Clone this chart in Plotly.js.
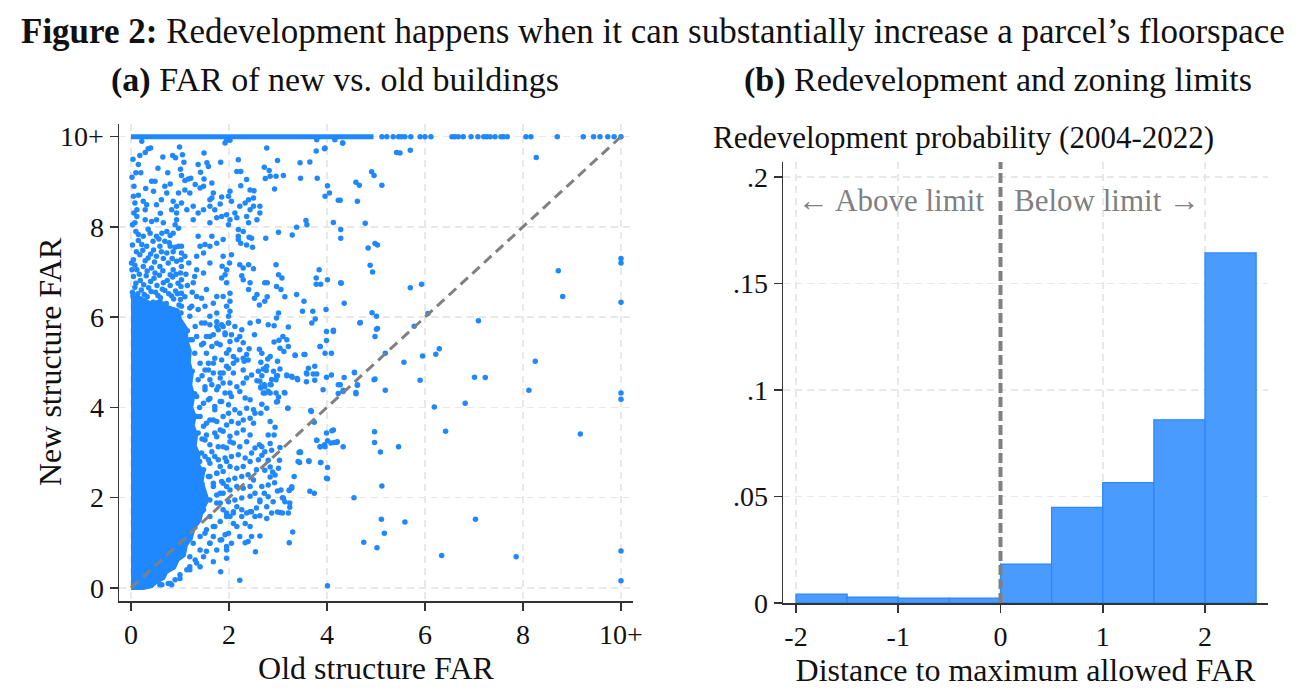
<!DOCTYPE html>
<html>
<head>
<meta charset="utf-8">
<script src="https://cdn.plot.ly/plotly-3.0.1.min.js"></script>
<style>html,body{margin:0;padding:0;background:#fff;}#chart{width:1306px;height:700px;}</style>
</head>
<body>
<div id="chart"></div>
<script>
// ---------------- Panel (a) data: FAR of new vs. old buildings ----------------
// Dense core of the cloud (outline of the region where points fully overlap), [oldFAR, newFAR]
const denseCore = [
  [0,0],[0.25,0],[0.42,0.04],[0.5,0.12],[0.66,0.22],[0.72,0.35],[0.88,0.45],[0.95,0.62],[1.08,0.72],
  [1.12,0.95],[1.22,1.1],[1.28,1.32],[1.4,1.5],[1.45,1.72],[1.56,1.95],[1.5,2.15],[1.44,2.35],[1.47,2.55],
  [1.36,2.75],[1.38,2.95],[1.3,3.15],[1.33,3.4],[1.26,3.6],[1.3,3.8],[1.23,4.0],[1.27,4.25],[1.21,4.5],
  [1.24,4.75],[1.18,5.0],[1.2,5.25],[1.13,5.5],[1.12,5.75],[1.0,5.95],[0.95,6.15],[0.75,6.22],[0.6,6.35],
  [0.4,6.3],[0.2,6.42],[0,6.45]
];
// Dense run of points on the top-coded "10+" row (old FAR from..to)
const denseTopRow = [0, 4.95];
// Individual points on the top-coded row (new FAR = 10+)
const topRowOldFAR = [5.12,5.22,5.35,5.46,5.52,5.59,5.71,5.90,6.0,6.12,6.55,6.61,6.68,6.78,6.94,
  7.08,7.20,7.26,7.33,7.43,7.55,7.60,7.68,8.06,8.16,8.70,9.23,9.44,9.57,9.73,9.86,10];
// Individual scattered points [old structure FAR, new structure FAR]
const scatterPoints = [
  [4.32,9.86],[5.42,9.65],[5.49,9.64],[5.70,9.70],[4.91,9.22],[4.96,9.14],[4.59,8.99],[4.66,8.92],[5.12,8.92],[4.27,8.59],
  [4.62,8.57],[4.78,8.08],[4.28,7.94],[4.28,7.75],[4.84,7.53],[4.98,7.63],[5.03,7.60],[4.88,7.15],[4.93,7.00],[4.29,6.75],
  [5.70,6.65],[5.93,6.73],[4.35,6.31],[4.92,6.10],[5.01,6.02],[4.68,5.88],[5.03,5.75],[4.98,5.57],[6.06,6.08],[5.78,5.80],
  [7.09,5.92],[5.19,5.20],[5.57,5.00],[5.95,5.14],[6.22,5.18],[6.29,5.30],[8.27,9.54],[8.72,7.03],[8.81,6.46],[10,7.30],
  [10,7.20],[10,6.33],[8.25,5.02],
  [4.56,4.77],[4.27,4.50],[4.33,4.38],[4.62,4.49],[4.59,4.30],[4.98,4.63],[5.19,4.38],[5.90,4.60],[7.01,4.67],[7.23,4.66],
  [6.82,4.09],[6.19,4.01],[8.12,4.38],[10,4.32],[10,4.18],[6.42,3.47],[4.97,3.46],[4.97,3.22],[4.33,3.13],[5.09,3.01],
  [5.46,3.13],[9.17,3.41],[5.12,2.26],[4.55,2.00],[5.11,1.52],[5.59,1.46],[5.17,1.21],[7.03,1.52],[4.75,1.01],[5.02,0.89],
  [6.34,0.72],[7.86,0.69],[10,0.82],[10,0.16],
  [4.01,0.05],[2.22,0.17],[1.83,0.36],[2.54,0.80],[3.23,1.00],[3.30,1.24],[2.33,1.00],[2.39,1.03],[2.63,1.15],[2.99,1.68],
  [3.09,1.66],[3.24,1.79],[3.09,2.00],[3.14,1.91],[3.65,2.14],[3.74,2.10],[3.23,2.16],[3.28,2.24],[4.01,2.42],[4.01,2.67],
  [3.63,2.82],[3.87,2.78],[3.44,2.78],[3.46,3.00],[4.01,3.26],[4.10,3.48],[4.20,3.23],[3.86,3.13],[3.95,3.17],[3.79,3.27],
  [3.68,3.91],[3.20,3.98],[4.35,4.66],[3.59,4.74],[3.79,4.74],[3.39,4.64],[2.96,4.32],[3.14,4.32],[2.97,4.12],[2.76,4.82],
  [2.91,4.80],[2.99,4.70],[3.18,4.70],[3.29,4.67],[2.57,4.59],[2.65,4.46],[2.72,4.50],[2.86,4.50],[2.74,4.32],[2.84,4.32],
  [1.20,0.69],[1.27,0.99],[1.41,1.14],[1.54,1.29],[1.71,1.36],[1.82,1.47],[1.95,1.58],[2.09,1.66],[2.16,1.80],[2.26,1.58],
  [2.36,1.66],[2.46,1.69],[2.53,1.58],[2.63,1.60],[2.77,1.80],[2.90,1.91],[1.61,0.99],[1.75,0.84],[1.95,0.84],[2.05,0.99],
  [1.92,1.18],[1.48,0.69],[1.34,0.55],[1.14,0.40],[1.00,0.29],[0.90,0.18],[0.76,0.10],[0.63,0.07],[0.83,0.07],[1.20,0.47],
  [1.41,0.47],[1.54,0.81],[1.68,1.14],[1.85,1.07],[2.16,1.36],[2.33,1.43],[2.43,1.36],[2.22,1.14],[2.46,1.14],[2.77,1.54],
  [2.87,1.66],[2.80,2.02],[2.63,1.91],[1.95,0.66],[1.68,0.58],
  [2.22,5.57],[2.52,5.61],[2.60,5.91],[2.80,5.83],[2.92,5.81],[2.29,5.43],[2.92,5.45],[3.02,5.49],[3.04,5.31],[3.12,5.24],
  [3.21,5.35],[2.41,5.30],[2.62,5.29],[2.67,5.20],[2.79,5.07],[2.29,5.09],[2.36,5.17],[2.31,5.02],[3.35,5.16],[3.55,5.17],
  [2.65,5.00],[2.77,4.91],[2.70,4.85],[2.60,4.80],[2.67,4.70],[2.84,5.13],[2.99,5.02],[3.04,4.85],[2.97,4.70],[2.96,4.61],
  [3.18,4.72],[3.28,4.69],[3.40,4.61],[3.58,4.76],[3.62,4.87],[3.75,4.91],[3.72,4.74],[3.58,4.57],[3.75,4.60],[3.86,5.35],
  [3.96,5.20],[3.99,5.48],[4.09,5.20],[4.13,5.68],[3.99,5.68],[4.67,5.87],[5.01,5.73],[3.99,4.67],[4.09,4.72],[4.23,4.50],
  [4.33,4.35],[4.23,4.31],[4.56,4.78],[4.62,4.50],[4.59,4.33],[3.92,4.39],[4.96,4.61],[2.63,4.58],[2.65,4.43],[2.70,4.32],
  [2.80,4.36],[2.84,4.51],[2.87,4.62],[2.73,4.46],[3.13,4.33],[3.01,4.23],[2.99,4.13],[3.20,3.98],[2.67,4.07],[2.65,3.87],
  [2.77,3.98],[2.50,3.95],[2.43,3.76],[2.84,3.69],[2.94,3.56],[2.80,3.39],[2.92,3.39],[2.84,3.20],[3.04,3.11],[2.87,3.05],
  [3.67,3.93],[3.74,3.67],[3.79,3.27],[3.86,3.13],[3.96,3.13],[4.08,3.21],[4.15,3.22],[4.21,3.24],[3.99,3.43],[4.13,3.50],
  [3.45,3.02],[3.41,2.80],[3.63,2.80],[3.87,2.78],[2.62,3.17],[2.67,3.13],[2.73,3.02],[2.67,2.94],[2.80,2.83],[2.84,2.68],
  [2.73,2.61],[2.89,2.57],[3.03,2.83],[3.01,2.65],[2.94,2.50],[2.84,2.46],[2.93,2.33],[2.99,2.15],[2.80,2.28],[2.72,2.10],
  [3.23,2.17],[3.28,2.21],[3.06,2.17],[3.11,1.99],[3.24,1.88],[3.04,1.67],[3.21,1.66],[3.33,2.47],[3.43,3.00],[3.99,2.43],
  [1.51,5.87],[1.61,5.83],[1.75,5.90],[1.88,5.79],[1.99,5.87],[2.05,5.61],[2.02,5.46],[1.92,5.65],[1.78,5.72],[1.68,5.61],
  [1.54,5.57],[1.48,5.42],[1.65,5.35],[1.82,5.39],[1.95,5.20],[2.09,5.13],[2.16,5.05],[2.09,4.98],[1.99,4.87],[1.85,5.05],
  [1.71,5.09],[1.58,4.98],[1.51,4.83],[1.68,4.76],[1.82,4.65],[1.88,4.76],[2.09,4.76],[2.02,4.54],[2.16,4.46],[2.22,4.35],
  [2.05,4.24],[1.92,4.32],[1.78,4.46],[1.65,4.50],[1.51,4.39],[1.58,4.17],[1.71,4.02],[1.82,4.13],[1.99,4.06],[2.12,3.95],
  [2.22,3.87],[2.36,3.98],[2.29,3.72],[2.19,3.65],[2.05,3.69],[1.88,3.80],[1.75,3.69],[1.61,3.72],[1.48,3.58],[1.54,3.39],
  [1.71,3.43],[1.88,3.47],[2.02,3.36],[2.16,3.43],[2.29,3.50],[2.43,3.39],[2.36,3.24],[2.22,3.13],[2.09,3.21],[1.95,3.10],
  [1.78,3.13],[1.65,3.02],[1.51,2.91],[1.61,2.76],[1.78,2.84],[1.92,2.88],[2.05,2.91],[2.19,2.95],[2.33,2.88],[2.46,2.99],
  [2.43,2.80],[2.29,2.69],[2.16,2.65],[2.02,2.69],[1.88,2.58],[1.75,2.54],[1.58,2.47],[1.68,2.32],[1.85,2.36],[1.99,2.39],
  [2.12,2.43],[2.26,2.47],[2.39,2.51],[2.50,2.39],[2.43,2.25],[2.29,2.21],[2.16,2.25],[2.02,2.17],[1.88,2.10],[1.75,2.06],
  [1.61,1.95],[1.82,1.88],[1.99,1.91],[2.12,1.95],[2.26,1.99],[2.43,2.03],[2.53,2.10],[2.63,1.95],[2.56,1.77],[2.43,1.69],
  [2.26,1.73],[2.09,1.69],[1.95,1.66],[2.67,2.25],[2.56,2.62],[2.60,2.84],[2.53,3.10],[2.50,3.65],[2.53,3.87],[2.43,4.17],
  [2.33,4.21],[2.29,4.54],[2.36,4.65],[2.46,4.72],[2.29,4.83],[2.39,5.05],[2.22,5.28],[2.16,5.50],[2.26,5.72],[2.12,5.79],
  [2.43,5.87],
  [1.30,4.30],[1.35,3.80],[1.45,3.30],[1.40,2.80],[1.45,2.30],[1.50,1.90],[1.45,4.70],[1.30,5.20],[1.25,4.80],[1.40,4.00],
  [1.38,2.55],[1.45,1.70],[1.25,5.50],[1.15,5.70],[1.30,1.45],[1.20,1.10],
  [1.34,5.57],[1.44,5.39],[1.54,5.20],[1.61,5.57],[1.75,5.42],[1.92,5.61],[2.00,5.28],[1.41,4.98],[1.58,4.83],[1.68,4.98],
  [1.82,4.76],[1.95,4.91],[1.37,4.61],[1.51,4.46],[1.61,4.61],[1.75,4.39],[1.88,4.54],[2.02,4.32],[1.34,4.24],[1.48,4.09],
  [1.61,4.20],[1.71,3.95],[1.85,4.13],[1.99,3.87],[1.41,3.80],[1.54,3.65],[1.68,3.72],[1.82,3.50],[1.95,3.61],[1.37,3.43],
  [1.51,3.28],[1.61,3.17],[1.75,3.35],[1.88,3.13],[2.02,3.24],[1.44,2.99],[1.58,2.84],[1.71,2.91],[1.82,2.69],[1.95,2.80],
  [1.48,2.62],[1.61,2.47],[1.75,2.54],[1.88,2.32],[1.68,2.25],[1.82,2.10],[1.95,2.25],[1.75,1.88],[1.88,1.73],[1.61,1.58],
  [1.68,1.36],[1.51,1.21],[1.61,0.99],[1.41,0.84],[1.31,0.62],[1.20,0.40],[1.00,0.21],[0.80,0.10],[0.59,0.07],[2.02,1.58],
  [2.09,1.43],[1.99,1.21],[1.82,1.06],[1.95,0.92],[1.48,1.73],
  [0.22,9.90],[0.15,9.38],[0.18,9.58],[0.29,9.65],[0.35,9.73],[0.40,9.75],[0.65,9.55],[0.85,9.58],[0.91,9.53],[0.99,9.77],
  [1.05,9.60],[1.08,9.43],[1.01,9.28],[1.03,9.14],[1.10,9.03],[1.17,9.06],[1.22,9.08],[1.37,9.38],[1.49,9.64],[1.42,9.21],
  [1.49,9.06],[1.55,9.42],[1.58,9.34],[1.83,9.43],[1.92,9.86],[1.95,9.92],[2.02,9.92],[2.19,9.49],[2.16,9.23],[2.24,9.23],
  [2.24,8.91],[2.36,9.05],[2.51,8.80],[2.77,9.75],[2.72,9.32],[2.82,9.25],[2.74,9.07],[2.84,9.12],[2.96,9.12],[2.99,9.47],
  [2.93,8.84],[3.11,9.14],[3.45,9.42],[3.46,9.08],[3.65,9.44],[3.78,9.68],[3.80,9.08],[3.95,9.73],[4.01,8.91],[4.05,8.75],
  [3.96,8.68],[4.23,8.59],[4.13,8.10],[3.38,7.99],[3.59,8.05],[3.57,8.14],[3.29,7.82],[3.01,7.88],[2.75,7.75],[2.96,7.16],
  [3.01,6.94],[3.08,6.87],[2.97,6.68],[3.06,6.61],[3.14,6.45],[3.38,6.50],[3.78,6.87],[3.84,7.05],[3.78,6.73],[3.87,6.73],
  [4.01,6.83],[4.28,6.76],[4.13,5.71],[3.98,6.17],[3.71,6.13],[3.76,5.96],[3.69,5.87],[3.50,6.13],[3.53,6.35],[3.86,5.35],
  [3.53,5.17],[3.35,5.15],[3.21,5.78],[3.10,5.57],[3.18,5.50],[3.01,6.09],[2.97,5.98],[2.73,6.76],[2.78,6.76],[2.78,6.45],
  [2.73,6.35],[2.62,6.27],[2.57,6.50],[2.52,6.42],[2.43,6.76],[2.40,6.61],[2.26,6.92],[2.29,6.83],[2.22,7.16],[2.29,7.09],
  [2.40,7.16],[2.50,7.07],[2.36,7.60],[2.48,7.55],[2.41,7.77],[2.46,7.75],[2.19,7.72],[2.24,7.64],[2.05,7.38],[2.01,7.20],
  [1.86,7.13],[1.95,7.05],[1.88,7.35],[1.92,6.94],[1.85,6.87],[1.95,6.76],[2.02,6.53],[1.88,6.46],[2.02,6.35],[1.95,6.24],
  [2.02,6.13],[1.99,6.02],[1.99,5.87],[1.75,6.46],[1.68,6.31],[1.75,6.09],[1.61,6.02],[1.75,5.79],[1.85,5.83],[1.54,6.61],
  [1.44,6.42],[1.51,6.24],[1.37,6.17],[1.44,5.87],[1.27,6.76],[1.34,6.46],[1.24,6.24],[1.20,6.02],[1.31,5.79],[1.20,5.50],
  [1.34,7.05],[1.48,6.98],[1.61,7.20],[1.48,7.42],[1.34,7.35],[1.61,7.57],[1.75,7.64],[1.88,7.72],[1.65,7.79],[1.51,7.61],
  [1.37,7.79],[1.41,7.57],[1.61,8.09],[1.75,8.20],[1.85,8.23],[1.71,8.38],[1.61,8.46],[1.48,8.38],[1.37,8.31],[1.27,8.16],
  [1.27,8.46],[1.14,8.38],[1.99,8.05],[2.02,8.16],[1.95,8.27],[2.05,8.57],[1.99,8.68],[2.02,8.79],[2.12,8.31],[2.16,8.20],
  [2.22,8.46],[2.33,8.53],[2.40,8.60],[2.43,8.38],[2.50,8.46],[2.36,8.23],[2.40,8.09],[2.19,7.94],[2.29,7.90],[2.19,7.79],
  [2.63,8.46],[2.63,8.31],[2.57,8.16],[2.43,8.82],[2.50,8.64],[1.65,8.64],[1.61,8.60],[1.68,8.75],[1.82,8.51],[1.85,8.66],
  [1.65,8.97],[1.48,8.90],[1.41,8.86],[1.31,8.94],[1.20,8.75],[1.10,8.82],[0.97,8.75],[1.03,8.53],[0.93,8.31],[0.83,8.38],
  [0.86,8.57],[0.93,8.46],[0.66,8.09],[0.52,8.16],[0.42,8.12],[0.29,8.16],[0.12,8.23],[0.42,9.01],[0.49,9.01],[0.46,8.79],
  [0.69,8.90],[0.73,8.75],[0.25,8.57],[0.32,8.49],[0.29,8.38],[0.52,8.49],[0.05,8.68],[0.08,8.53],[0.12,8.38],[0.06,8.31],
  [0.08,8.09],[0.03,8.05],[0.15,7.83],[0.25,7.79],[0.22,7.61],[0.39,7.86],[0.52,7.79],[0.63,7.86],[0.73,7.90],[0.80,7.81],
  [0.69,7.68],[0.86,7.86],[0.93,8.16],[0.97,7.97],[0.90,8.05],[0.32,7.57],[0.46,7.49],[0.59,7.57],[0.73,7.42],[0.52,7.35],
  [0.35,7.31],[0.18,7.38],[0.05,7.27],[0.01,7.20],[0.12,7.05],[0.25,7.12],[0.42,7.09],[0.59,7.12],[0.76,7.20],[0.86,7.05],
  [0.93,7.24],[1.03,7.57],[1.03,7.42],[1.02,7.27],[1.03,7.12],[1.01,6.98],[1.03,6.83],[1.02,6.68],[1.03,6.53],[1.01,6.39],
  [1.03,6.24],[1.02,6.09],[0.80,7.57],[0.90,7.55],[0.97,7.57],
  [0.05,6.90],[0.19,6.81],[0.31,6.92],[0.47,6.86],[0.58,6.93],[0.74,6.81],[0.85,6.89],[0.96,6.75],
  [0.08,6.66],[0.21,6.60],[0.36,6.65],[0.50,6.55],[0.64,6.62],[0.77,6.52],[0.91,6.58],
  [0.04,6.47],[0.17,6.37],[0.33,6.45],[0.45,6.33],[0.60,6.43],[0.72,6.30],[0.87,6.40],[0.98,6.27],
  [0.03,6.55],[0.14,6.52],[0.27,6.50],[0.41,6.57],[0.55,6.48],[0.69,6.59],[0.83,6.47],[0.95,6.52],
  [0.10,6.75],[0.26,6.72],[0.40,6.79],[0.53,6.70],[0.66,6.76],[0.80,6.70],[0.92,6.95],
  [0.02,7.05],[0.17,6.95],[0.33,7.02],[0.49,6.98],[0.65,7.03],[0.80,6.94],
  [0.08,7.15],[0.29,7.25],[0.48,7.22],[0.66,7.30],[0.84,7.30],
  [0.11,7.45],[0.24,7.48],[0.40,7.40],[0.62,7.45],[0.86,7.45],
  [0.03,7.60],[0.15,7.70],[0.45,7.68],[0.57,7.73],[0.78,7.65],
  [1.10,6.45],[1.15,6.70],[1.12,6.95],[1.18,7.20],[1.10,7.35],[1.20,6.20],[1.25,6.55],[1.30,6.90],
  [0.02,9.10],[0.06,8.90],[0.10,9.20],[0.04,9.50],[0.20,9.20],[0.30,8.85],[0.15,8.70],[0.55,9.30],[0.62,8.60],[0.75,9.20],
  [0.80,8.95],[0.35,7.95],[0.60,8.30],[0.10,7.90],
  [3.79,9.93],[3.96,9.75],[4.16,9.93],[4.32,9.86]
];
const farTickVals = [0, 2, 4, 6, 8, 10];
const farTickText = ['0', '2', '4', '6', '8', '10+'];
const diagonalRef = [0, 10];

// ---------------- Panel (b) data: Redevelopment and zoning limits ----------------
const binLeft = [-2, -1.5, -1, -0.5, 0, 0.5, 1, 1.5, 2];
const binWidth = 0.5;
const redevProb = [0.0042, 0.0028, 0.0023, 0.0023, 0.0182, 0.0449, 0.0565, 0.0860, 0.1643];
const distTickVals = [-2, -1, 0, 1, 2];
const distTickText = ['-2', '-1', '0', '1', '2'];
const probTickVals = [0, 0.05, 0.1, 0.15, 0.2];
const probTickText = ['0', '.05', '.1', '.15', '.2'];
const zoningLimit = 0;

// ---------------- Styling ----------------
const FONT = '"Liberation Serif", "Times New Roman", serif';
const BLUE = '#1f88ff';
const GRID = '#e8e8e8';
const AX = '#333333';
const W = 1306, H = 700;
const px = v => v / W;
const py = v => 1 - v / H;

const traces = [
  {
    type: 'scatter', mode: 'lines', x: denseCore.map(p => p[0]), y: denseCore.map(p => p[1]),
    fill: 'toself', fillcolor: BLUE, line: {color: BLUE, width: 4}, hoverinfo: 'skip', xaxis: 'x', yaxis: 'y'
  },
  {
    type: 'scatter', mode: 'lines', x: denseTopRow, y: denseTopRow.map(() => 10),
    line: {color: BLUE, width: 5}, hoverinfo: 'skip', xaxis: 'x', yaxis: 'y'
  },
  {
    type: 'scatter', mode: 'markers', x: scatterPoints.map(p => p[0]), y: scatterPoints.map(p => p[1]),
    marker: {color: BLUE, size: 5.5, line: {width: 0}}, xaxis: 'x', yaxis: 'y'
  },
  {
    type: 'scatter', mode: 'markers', x: topRowOldFAR, y: topRowOldFAR.map(() => 10),
    marker: {color: BLUE, size: 5.5, line: {width: 0}}, xaxis: 'x', yaxis: 'y'
  },
  {
    type: 'bar', x: binLeft, y: redevProb, width: binWidth, offset: 0,
    marker: {color: '#4a9bfe', line: {color: '#2f87f8', width: 1.3}}, xaxis: 'x2', yaxis: 'y2'
  }
];

const axCommon = {
  showline: true, linecolor: AX, linewidth: 1.5, mirror: false,
  ticks: 'outside', ticklen: 8, tickwidth: 1.5, tickcolor: AX,
  showgrid: true, gridcolor: GRID, gridwidth: 1.5, griddash: '7px,5px',
  zeroline: false, tickfont: {family: FONT, size: 28, color: '#111'}, fixedrange: true
};
const titleFont = {family: FONT, size: 32, color: '#111'};

const layout = {
  width: W, height: H, margin: {l: 0, r: 0, t: 0, b: 0},
  paper_bgcolor: '#fff', plot_bgcolor: '#fff', showlegend: false,
  font: {family: FONT, color: '#111'},
  xaxis: Object.assign({}, axCommon, {
    domain: [px(119), px(633)], range: [-0.245, 10.245], anchor: 'y',
    tickmode: 'array', tickvals: farTickVals, ticktext: farTickText,
    title: {text: 'Old structure FAR', font: titleFont, standoff: 0}
  }),
  yaxis: Object.assign({}, axCommon, {
    domain: [py(601), py(124)], range: [-0.29, 10.28], anchor: 'x',
    tickmode: 'array', tickvals: farTickVals, ticktext: farTickText
  }),
  xaxis2: Object.assign({}, axCommon, {
    domain: [px(783), px(1268)], range: [-2.127, 2.616], anchor: 'y2',
    tickmode: 'array', tickvals: distTickVals, ticktext: distTickText,
    title: {text: 'Distance to maximum allowed FAR', font: titleFont, standoff: 0}
  }),
  yaxis2: Object.assign({}, axCommon, {
    domain: [py(603), py(162)], range: [0, 0.207], anchor: 'x2',
    tickmode: 'array', tickvals: probTickVals, ticktext: probTickText
  }),
  shapes: [
    {type: 'line', xref: 'x', yref: 'y', x0: diagonalRef[0], y0: diagonalRef[0], x1: diagonalRef[1], y1: diagonalRef[1],
     line: {color: '#808080', width: 3, dash: '10px,6px'}, layer: 'above'},
    {type: 'line', xref: 'x2', yref: 'y2 domain', x0: zoningLimit, x1: zoningLimit, y0: 0, y1: 1,
     line: {color: '#808080', width: 4, dash: '10px,4px'}, layer: 'above'}
  ],
  annotations: [
    {xref: 'paper', yref: 'paper', x: 0.5, y: py(32), xanchor: 'center', yanchor: 'middle', showarrow: false,
     text: '<b>Figure 2:</b> Redevelopment happens when it can substantially increase a parcel’s floorspace',
     font: {family: FONT, size: 35, color: '#111'}},
    {xref: 'paper', yref: 'paper', x: px(335), y: py(80), xanchor: 'center', yanchor: 'middle', showarrow: false,
     text: '<b>(a)</b> FAR of new vs. old buildings', font: {family: FONT, size: 34, color: '#111'}},
    {xref: 'paper', yref: 'paper', x: px(998), y: py(80), xanchor: 'center', yanchor: 'middle', showarrow: false,
     text: '<b>(b)</b> Redevelopment and zoning limits', font: {family: FONT, size: 34, color: '#111'}},
    {xref: 'paper', yref: 'paper', x: px(50), y: py(362), xanchor: 'center', yanchor: 'middle', showarrow: false,
     textangle: -90, text: 'New structure FAR', font: titleFont},
    {xref: 'paper', yref: 'paper', x: px(711), y: py(137), xanchor: 'left', yanchor: 'middle', showarrow: false,
     text: 'Redevelopment probability (2004-2022)', font: {family: FONT, size: 31, color: '#111'}},
    {xref: 'x2', yref: 'y2', x: -1.07, y: 0.189, xanchor: 'center', yanchor: 'middle', showarrow: false,
     text: '← Above limit', font: {family: FONT, size: 31, color: '#808080'}},
    {xref: 'x2', yref: 'y2', x: 1.04, y: 0.189, xanchor: 'center', yanchor: 'middle', showarrow: false,
     text: 'Below limit →', font: {family: FONT, size: 31, color: '#808080'}}
  ]
};

Plotly.newPlot('chart', traces, layout, {displayModeBar: false, staticPlot: true});
</script>
</body>
</html>
